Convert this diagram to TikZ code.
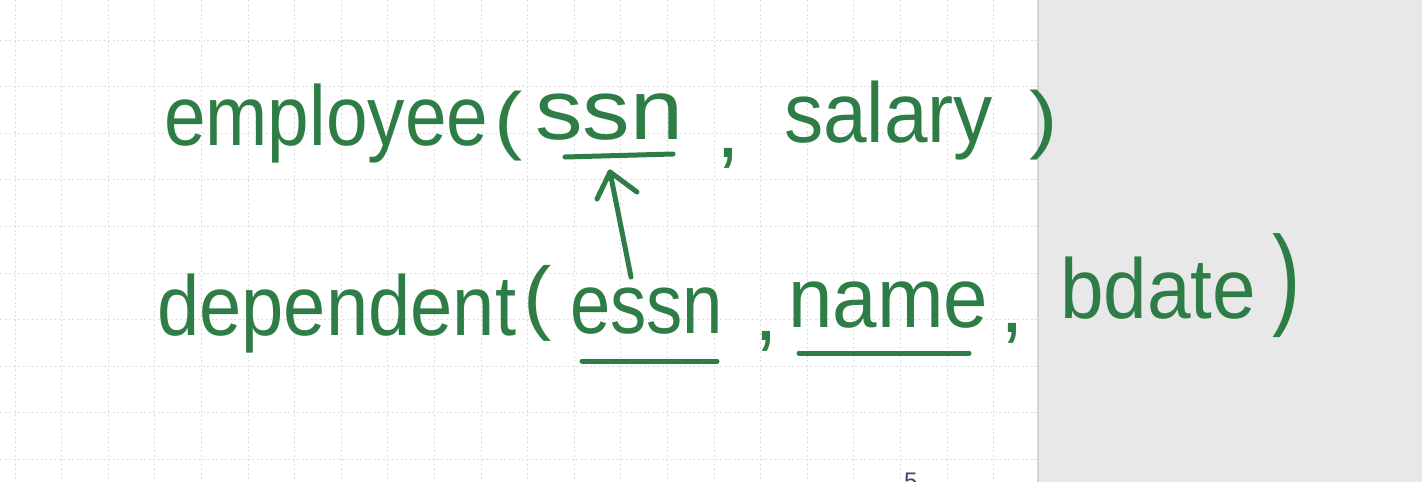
\documentclass[tikz,border=0pt]{standalone}
\usepackage{fontspec}
\setmainfont{Liberation Sans}
\usepackage{graphicx}
\definecolor{ink}{RGB}{46,125,70}
\definecolor{panel}{RGB}{232,232,232}
\definecolor{paneledge}{RGB}{214,214,214}
\definecolor{gridc}{RGB}{222,222,222}
\definecolor{pagenum}{RGB}{70,70,120}
\newcommand\hwtxt[2]{\resizebox{#1pt}{\height}{#2}}
\newcommand\hwpar[2]{\resizebox*{\width}{#1pt}{#2}}
\tikzset{
  hand/.style={font=\fontsize{85}{85}\selectfont, text=ink, inner sep=0pt, anchor=base west},
  paren/.style={font=\fontsize{85}{85}\selectfont, text=ink, inner sep=0pt, anchor=north west},
  pen/.style={draw=ink, line width=5pt, line cap=round, line join=round},
  gridline/.style={draw=gridc, line width=0.9pt, dash pattern=on 2pt off 2.5pt}
}
\begin{document}
\begin{tikzpicture}[x=1pt,y=-1pt]
\useasboundingbox (0,0) rectangle (1422,482);
\fill[white] (0,0) rectangle (1422,482);
% grid
\foreach \i in {0,...,22} {
  \pgfmathsetmacro\gx{15+46.6*\i}
  \draw[gridline] (\gx,0) -- (\gx,482);
}
\foreach \j in {0,...,9} {
  \pgfmathsetmacro\gy{40+46.6*\j}
  \draw[gridline] (0,\gy) -- (1037,\gy);
}
% right panel
\fill[panel] (1037,0) rectangle (1422,482);
\draw[paneledge, line width=2pt] (1038,0) -- (1038,482);
% line 1
\node[hand] (emp) at (164,145) {\hwtxt{324}{employee}};
\node[paren] (lp1) at (494,91) {\hwpar{70}{(}};
\node[hand] (ssn) at (535,139) {\hwtxt{148}{ssn}};
\node[hand] (c1) at (716,157) {,};
\node[hand] (sal) at (784,142) {\hwtxt{209}{salary}};
\node[paren] (rp1) at (1029,90) {\hwpar{70}{)}};
% line 2
\node[hand] (dep) at (157,335) {\hwtxt{359}{dependent}};
\node[paren] (lp2) at (523,265) {\hwpar{76}{(}};
\node[hand] (essn) at (570,333) {\hwtxt{153}{essn}};
\node[hand] (c2) at (754,340) {,};
\node[hand] (nm) at (788,327) {\hwtxt{200}{name}};
\node[hand] (c3) at (1000,332) {,};
\node[hand] (bd) at (1060,318) {\hwtxt{196}{bdate}};
\node[paren] (rp2) at (1272,233) {\hwpar{104}{)}};
% underlines
\draw[pen] (565,157) -- (673,154);
\draw[pen] (582,361) -- (717,361);
\draw[pen] (799,353) -- (969,353);
% arrow
\coordinate (arrS) at (631,277);
\coordinate (arrE) at (610,172);
\coordinate (armL) at (597,199);
\coordinate (armR) at (637,192);
\draw[pen] (arrS) -- (arrE);
\draw[pen] (armL) -- (arrE) -- (armR);
% page number fragment
\node[font=\fontsize{24}{24}\selectfont, text=pagenum, inner sep=0pt, anchor=north west] (pg) at (904,473) {5};
\end{tikzpicture}
\end{document}
